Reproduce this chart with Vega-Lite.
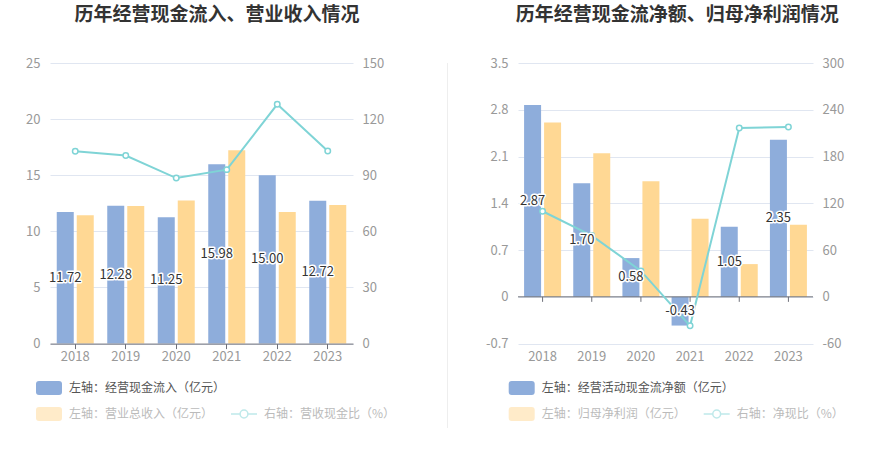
{
  "$schema": "https://vega.github.io/schema/vega-lite/v6.json",
  "background": "white",
  "padding": {"left": 5, "top": 6, "right": 5, "bottom": 5},
  "datasets": {
    "left": [
      {"year": "2018", "inflow": 11.72, "revenue": 11.43, "ratio": 102.8},
      {"year": "2019", "inflow": 12.28, "revenue": 12.26, "ratio": 100.5},
      {"year": "2020", "inflow": 11.25, "revenue": 12.74, "ratio": 88.5},
      {"year": "2021", "inflow": 15.98, "revenue": 17.22, "ratio": 93.0},
      {"year": "2022", "inflow": 15.00, "revenue": 11.73, "ratio": 127.9},
      {"year": "2023", "inflow": 12.72, "revenue": 12.35, "ratio": 103.0}
    ],
    "right": [
      {"year": "2018", "net": 2.87, "profit": 2.61, "ratio": 109.8},
      {"year": "2019", "net": 1.70, "profit": 2.15, "ratio": 78.6},
      {"year": "2020", "net": 0.58, "profit": 1.73, "ratio": 33.3},
      {"year": "2021", "net": -0.43, "profit": 1.17, "ratio": -37.2},
      {"year": "2022", "net": 1.05, "profit": 0.49, "ratio": 216.5},
      {"year": "2023", "net": 2.35, "profit": 1.08, "ratio": 218.0}
    ]
  },
  "align": "none",
  "spacing": 30,
  "resolve": {
    "scale": {"color": "independent", "fill": "independent", "stroke": "independent"},
    "legend": {"color": "independent", "fill": "independent", "stroke": "independent"}
  },
  "concat": [
    {
      "align": "none",
      "spacing": 51,
      "resolve": {
        "scale": {"color": "independent", "fill": "independent", "stroke": "independent"},
        "legend": {"color": "independent", "fill": "independent", "stroke": "independent"}
      },
      "concat": [
        {
          "width": 303,
          "height": 280.6,
          "data": {"name": "left"},
          "title": {"text": "历年经营现金流入、营业收入情况", "dx": 15.5},
          "encoding": {
            "x": {
              "field": "year",
              "type": "nominal",
              "axis": {"domain": true, "domainColor": "#6E7079", "ticks": true, "tickColor": "#6E7079", "tickSize": 5, "labelPadding": 2, "labelAngle": 0, "zindex": 1}
            }
          },
          "layer": [
            {
              "mark": {"type": "bar", "width": 17, "xOffset": -10},
              "encoding": {
                "x": {"field": "year", "type": "nominal", "scale": {"paddingInner": 0, "paddingOuter": 0}},
                "y": {
                  "field": "inflow",
                  "type": "quantitative",
                  "scale": {"domain": [0, 25], "nice": false},
                  "axis": {"orient": "left", "values": [0, 5, 10, 15, 20, 25], "grid": true, "labelPadding": 10, "minExtent": 45, "maxExtent": 45}
                },
                "color": {
                  "datum": "左轴：经营现金流入（亿元）",
                  "type": "nominal",
                  "scale": {"range": ["#8EADDB"]},
                  "legend": {"orient": "none", "legendX": -15, "legendY": 311, "symbolType": "M-0.77,-0.54L0.77,-0.54Q1,-0.54,1,-0.31L1,0.31Q1,0.54,0.77,0.54L-0.77,0.54Q-1,0.54,-1,0.31L-1,-0.31Q-1,-0.54,-0.77,-0.54Z", "symbolSize": 676, "labelColor": "#555555"}
                }
              }
            },
            {
              "mark": {"type": "bar", "width": 17, "xOffset": 10},
              "encoding": {
                "y": {"field": "revenue", "type": "quantitative", "scale": {"domain": [0, 25], "nice": false}, "axis": null},
                "fill": {
                  "datum": "左轴：营业总收入（亿元）",
                  "type": "nominal",
                  "scale": {"range": ["#FFD894"]},
                  "legend": {"orient": "none", "legendX": -15, "legendY": 337, "symbolType": "M-0.77,-0.54L0.77,-0.54Q1,-0.54,1,-0.31L1,0.31Q1,0.54,0.77,0.54L-0.77,0.54Q-1,0.54,-1,0.31L-1,-0.31Q-1,-0.54,-0.77,-0.54Z", "symbolSize": 676, "symbolOpacity": 0.5, "labelColor": "#BBBBBB"}
                }
              }
            },
            {
              "mark": {"type": "line", "strokeWidth": 2, "point": {"filled": false, "fill": "white", "size": 30, "strokeWidth": 1.5}},
              "encoding": {
                "y": {
                  "field": "ratio",
                  "type": "quantitative",
                  "scale": {"domain": [0, 150], "nice": false},
                  "axis": {"orient": "right", "values": [0, 30, 60, 90, 120, 150], "grid": false, "labelPadding": 9, "minExtent": 40, "maxExtent": 40}
                },
                "stroke": {
                  "datum": "右轴：营收现金比（%）",
                  "type": "nominal",
                  "scale": {"range": ["#7FD4D6"]},
                  "legend": {
                    "orient": "none", "legendX": 180, "legendY": 337,
                    "symbolType": "M-1,0L-0.3,0M0.3,0L1,0M-0.3,0A0.3,0.3,0,1,1,0.3,0A0.3,0.3,0,1,1,-0.3,0",
                    "symbolSize": 676, "labelColor": "#BBBBBB",
                    "encode": {"symbols": {"update": {"fill": {"value": "white"}, "stroke": {"value": "#7FD4D6"}, "strokeWidth": {"value": 1.5}, "opacity": {"value": 0.5}}}}
                  }
                }
              }
            },
            {
              "mark": {"type": "text", "xOffset": -10, "fontSize": 13, "fill": "white", "stroke": "white", "strokeWidth": 3, "strokeJoin": "round"},
              "encoding": {
                "y": {"field": "inflow", "type": "quantitative", "scale": {"domain": [0, 50], "nice": false}, "axis": null},
                "text": {"field": "inflow", "type": "quantitative", "format": ".2f"}
              }
            },
            {
              "mark": {"type": "text", "xOffset": -10, "fontSize": 13, "fill": "#333333"},
              "encoding": {
                "y": {"field": "inflow", "type": "quantitative", "scale": {"domain": [0, 50], "nice": false}, "axis": null},
                "text": {"field": "inflow", "type": "quantitative", "format": ".2f"}
              }
            }
          ],
          "resolve": {"scale": {"y": "independent"}}
        },
        {
          "width": 1,
          "height": 365,
          "data": {"values": []},
          "mark": {"type": "point"},
          "encoding": {},
          "view": {"fill": "#EEEEEE", "stroke": null}
        }
      ]
    },
    {
      "width": 295,
      "height": 280.6,
      "data": {"name": "right"},
      "title": {"text": "历年经营现金流净额、归母净利润情况", "dx": 11.8},
      "layer": [
        {
          "mark": {"type": "bar", "width": 17, "xOffset": -10},
          "encoding": {
            "x": {
              "field": "year",
              "type": "nominal",
              "scale": {"paddingInner": 0, "paddingOuter": 0},
              "axis": {"domain": false, "ticks": true, "tickOpacity": 0, "tickSize": 5, "labelPadding": 2, "labelAngle": 0}
            },
            "y": {
              "field": "net",
              "type": "quantitative",
              "scale": {"domain": [-0.7, 3.5], "nice": false, "zero": false},
              "axis": {"orient": "left", "values": [-0.7, 0, 0.7, 1.4, 2.1, 2.8, 3.5], "labelExpr": "'' + datum.value", "grid": true, "labelPadding": 10, "minExtent": 40, "maxExtent": 40}
            },
            "color": {
              "datum": "左轴：经营活动现金流净额（亿元）",
              "type": "nominal",
              "scale": {"range": ["#8EADDB"]},
              "legend": {"orient": "none", "legendX": -10.3, "legendY": 311, "symbolType": "M-0.77,-0.54L0.77,-0.54Q1,-0.54,1,-0.31L1,0.31Q1,0.54,0.77,0.54L-0.77,0.54Q-1,0.54,-1,0.31L-1,-0.31Q-1,-0.54,-0.77,-0.54Z", "symbolSize": 676, "labelColor": "#555555"}
            }
          }
        },
        {
          "mark": {"type": "bar", "width": 17, "xOffset": 10},
          "encoding": {
            "x": {"field": "year", "type": "nominal"},
            "y": {"field": "profit", "type": "quantitative", "scale": {"domain": [-0.7, 3.5], "nice": false, "zero": false}, "axis": null},
            "fill": {
              "datum": "左轴：归母净利润（亿元）",
              "type": "nominal",
              "scale": {"range": ["#FFD894"]},
              "legend": {"orient": "none", "legendX": -10.3, "legendY": 337, "symbolType": "M-0.77,-0.54L0.77,-0.54Q1,-0.54,1,-0.31L1,0.31Q1,0.54,0.77,0.54L-0.77,0.54Q-1,0.54,-1,0.31L-1,-0.31Q-1,-0.54,-0.77,-0.54Z", "symbolSize": 676, "symbolOpacity": 0.5, "labelColor": "#BBBBBB"}
            }
          }
        },
        {
          "data": {"values": [{}]},
          "mark": {"type": "rule", "color": "#6E7079", "strokeWidth": 1},
          "encoding": {
            "y": {"datum": 0, "type": "quantitative", "scale": {"domain": [-0.7, 3.5], "nice": false, "zero": false}, "axis": null}
          }
        },
        {
          "mark": {"type": "rule", "color": "#6E7079", "strokeWidth": 1},
          "encoding": {
            "x": {"field": "year", "type": "nominal"},
            "y": {"datum": 0, "type": "quantitative", "scale": {"domain": [-0.7, 3.5], "nice": false, "zero": false}, "axis": null},
            "y2": {"datum": -0.075}
          }
        },
        {
          "mark": {"type": "line", "strokeWidth": 2, "point": {"filled": false, "fill": "white", "size": 30, "strokeWidth": 1.5}},
          "encoding": {
            "x": {"field": "year", "type": "nominal"},
            "y": {
              "field": "ratio",
              "type": "quantitative",
              "scale": {"domain": [-60, 300], "nice": false, "zero": false},
              "axis": {"orient": "right", "values": [-60, 0, 60, 120, 180, 240, 300], "labelExpr": "'' + datum.value", "grid": false, "labelPadding": 9, "minExtent": 40, "maxExtent": 40}
            },
            "stroke": {
              "datum": "右轴：净现比（%）",
              "type": "nominal",
              "scale": {"range": ["#7FD4D6"]},
              "legend": {
                "orient": "none", "legendX": 184.7, "legendY": 337,
                "symbolType": "M-1,0L-0.3,0M0.3,0L1,0M-0.3,0A0.3,0.3,0,1,1,0.3,0A0.3,0.3,0,1,1,-0.3,0",
                "symbolSize": 676, "labelColor": "#BBBBBB",
                "encode": {"symbols": {"update": {"fill": {"value": "white"}, "stroke": {"value": "#7FD4D6"}, "strokeWidth": {"value": 1.5}, "opacity": {"value": 0.5}}}}
              }
            }
          }
        },
        {
          "mark": {"type": "text", "xOffset": -10, "fontSize": 13, "fill": "white", "stroke": "white", "strokeWidth": 3, "strokeJoin": "round"},
          "encoding": {
            "x": {"field": "year", "type": "nominal"},
            "y": {"field": "net", "type": "quantitative", "scale": {"domain": [-1.4, 7.0], "nice": false, "zero": false}, "axis": null},
            "text": {"field": "net", "type": "quantitative", "format": ".2f"}
          }
        },
        {
          "mark": {"type": "text", "xOffset": -10, "fontSize": 13, "fill": "#333333"},
          "encoding": {
            "x": {"field": "year", "type": "nominal"},
            "y": {"field": "net", "type": "quantitative", "scale": {"domain": [-1.4, 7.0], "nice": false, "zero": false}, "axis": null},
            "text": {"field": "net", "type": "quantitative", "format": ".2f"}
          }
        }
      ],
      "resolve": {"scale": {"y": "independent"}}
    }
  ],
  "config": {
    "font": "Noto Sans CJK SC",
    "locale": {"number": {"decimal": ".", "thousands": ",", "grouping": [3], "currency": ["", ""], "minus": "-"}},
    "view": {"stroke": null},
    "axis": {"labelColor": "#999999", "labelFontSize": 13, "labelFont": "Noto Sans CJK SC", "domain": false, "ticks": false, "title": null, "gridColor": "#E0E6F1", "gridWidth": 1},
    "legend": {"title": null, "padding": 0, "labelFontSize": 12, "labelFont": "Noto Sans CJK SC", "labelOffset": 6, "labelLimit": 300},
    "title": {"fontSize": 19, "fontWeight": "bold", "color": "#333333", "font": "Noto Sans CJK SC", "anchor": "middle", "frame": "group", "offset": 32}
  }
}
